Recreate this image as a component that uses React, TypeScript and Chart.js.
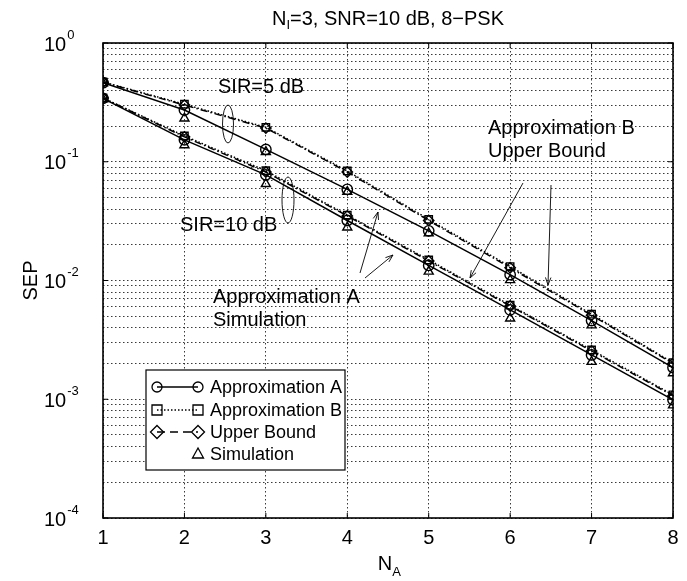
import React, { useEffect, useRef } from 'react';
import { Chart, registerables } from 'chart.js';
Chart.register(...registerables);

const NA = [1, 2, 3, 4, 5, 6, 7, 8];
const sir5ApproxA = [0.463, 0.273, 0.127, 0.0586, 0.0262, 0.0112, 0.0046, 0.00185];
const sir5ApproxB = [0.47, 0.305, 0.195, 0.0836, 0.0327, 0.0131, 0.0052, 0.00203];
const sir5Upper = [0.468, 0.3, 0.192, 0.082, 0.032, 0.0128, 0.0051, 0.002];
const sir5Sim = [0.458, 0.232, 0.121, 0.0559, 0.025, 0.0101, 0.0042, 0.00166];
const sir10ApproxA = [0.342, 0.153, 0.0775, 0.032, 0.0134, 0.00565, 0.00236, 0.00099];
const sir10ApproxB = [0.345, 0.165, 0.084, 0.0356, 0.0149, 0.0062, 0.0026, 0.00109];
const sir10Upper = [0.344, 0.162, 0.082, 0.035, 0.0146, 0.0061, 0.00255, 0.00107];
const sir10Sim = [0.336, 0.138, 0.065, 0.028, 0.0119, 0.0048, 0.00207, 0.00089];
const yExponents = [0, -1, -2, -3, -4];
const xTickLabels = ['1', '2', '3', '4', '5', '6', '7', '8'];
const legendLabels = ['Approximation A', 'Approximation B', 'Upper Bound', 'Simulation'];

const FONT = '"Liberation Sans", Arial, sans-serif';

function yGridTicks() {
  const t: { value: number }[] = [];
  for (let e = -4; e <= 0; e++) {
    for (let m = 1; m <= 9; m++) {
      const v = m * Math.pow(10, e);
      if (v <= 1.0000001) t.push({ value: v });
    }
  }
  return t;
}

function drawMarker(ctx: CanvasRenderingContext2D, style: string, x: number, y: number, r: number) {
  ctx.beginPath();
  if (style === 'circle') ctx.arc(x, y, r, 0, Math.PI * 2);
  else if (style === 'rect') ctx.rect(x - r, y - r, 2 * r, 2 * r);
  else if (style === 'rectRot') {
    ctx.moveTo(x, y - r * 1.3); ctx.lineTo(x + r * 1.3, y); ctx.lineTo(x, y + r * 1.3); ctx.lineTo(x - r * 1.3, y); ctx.closePath();
  } else if (style === 'triangle') {
    ctx.moveTo(x, y - r * 1.2); ctx.lineTo(x + r * 1.1, y + r * 0.8); ctx.lineTo(x - r * 1.1, y + r * 0.8); ctx.closePath();
  }
  ctx.stroke();
}

function arrow(ctx: CanvasRenderingContext2D, x1: number, y1: number, x2: number, y2: number) {
  ctx.beginPath(); ctx.moveTo(x1, y1); ctx.lineTo(x2, y2); ctx.stroke();
  const a = Math.atan2(y2 - y1, x2 - x1);
  const L = 8, w = 0.35;
  ctx.beginPath();
  ctx.moveTo(x2 - L * Math.cos(a - w), y2 - L * Math.sin(a - w));
  ctx.lineTo(x2, y2);
  ctx.lineTo(x2 - L * Math.cos(a + w), y2 - L * Math.sin(a + w));
  ctx.stroke();
}

const overlay = {
  id: 'overlay',
  afterDraw(chart: any) {
    const { ctx, chartArea: ca, scales } = chart;
    const xs = scales.x, ys = scales.y;
    ctx.save();
    ctx.setLineDash([]);
    ctx.strokeStyle = '#000';
    ctx.fillStyle = '#000';
    // tick marks
    ctx.lineWidth = 1;
    for (const v of NA) {
      const px = xs.getPixelForValue(v);
      ctx.beginPath(); ctx.moveTo(px, ca.bottom); ctx.lineTo(px, ca.bottom - 5);
      ctx.moveTo(px, ca.top); ctx.lineTo(px, ca.top + 5); ctx.stroke();
    }
    for (const e of yExponents) {
      const py = ys.getPixelForValue(Math.pow(10, e));
      ctx.beginPath(); ctx.moveTo(ca.left, py); ctx.lineTo(ca.left + 5, py);
      ctx.moveTo(ca.right, py); ctx.lineTo(ca.right - 5, py); ctx.stroke();
    }
    // border
    ctx.lineWidth = 1.6;
    ctx.strokeRect(ca.left, ca.top, ca.right - ca.left, ca.bottom - ca.top);

    // y tick labels
    ctx.textBaseline = 'middle';
    ctx.textAlign = 'left';
    for (const e of yExponents) {
      const py = ys.getPixelForValue(Math.pow(10, e));
      ctx.font = `20px ${FONT}`;
      ctx.fillText('10', 44, py + 2);
      const w = ctx.measureText('10').width;
      ctx.font = `13px ${FONT}`;
      ctx.fillText(String(e), 44 + w + 1, py - 8);
    }
    // x tick labels
    ctx.font = `20px ${FONT}`;
    ctx.textAlign = 'center';
    NA.forEach((v, i) => {
      ctx.fillText(xTickLabels[i], xs.getPixelForValue(v), ca.bottom + 20);
    });
    // x title N_A
    const cx = (ca.left + ca.right) / 2;
    ctx.textAlign = 'left';
    ctx.font = `20px ${FONT}`;
    const nW = ctx.measureText('N').width;
    ctx.fillText('N', cx - nW / 2 - 3, ca.bottom + 46);
    ctx.font = `13px ${FONT}`;
    ctx.fillText('A', cx + nW / 2 - 3, ca.bottom + 54);
    // y title
    ctx.save();
    ctx.translate(31, (ca.top + ca.bottom) / 2);
    ctx.rotate(-Math.PI / 2);
    ctx.textAlign = 'center';
    ctx.font = `20px ${FONT}`;
    ctx.fillText('SEP', 0, 0);
    ctx.restore();
    // title
    const tf = 20, sf = 13;
    ctx.font = `${tf}px ${FONT}`;
    const t1 = 'N', t2 = 'I', t3 = '=3, SNR=10 dB, 8\u2212PSK';
    const w1 = ctx.measureText(t1).width;
    const w3 = ctx.measureText(t3).width;
    ctx.font = `${sf}px ${FONT}`;
    const w2 = ctx.measureText(t2).width;
    const total = w1 + w2 + w3;
    let tx = cx - total / 2;
    ctx.textAlign = 'left';
    ctx.font = `${tf}px ${FONT}`;
    ctx.fillText(t1, tx, 19); tx += w1;
    ctx.font = `${sf}px ${FONT}`;
    ctx.fillText(t2, tx, 25); tx += w2;
    ctx.font = `${tf}px ${FONT}`;
    ctx.fillText(t3, tx, 19);

    // annotations
    ctx.font = `20px ${FONT}`;
    ctx.fillText('SIR=5 dB', 218, 87);
    ctx.fillText('SIR=10 dB', 180, 225);
    ctx.fillText('Approximation A', 213, 297);
    ctx.fillText('Simulation', 213, 320);
    ctx.fillText('Approximation B', 488, 128);
    ctx.fillText('Upper Bound', 488, 151);
    ctx.lineWidth = 0.9;
    ctx.beginPath(); ctx.ellipse(228, 124, 5.5, 19, 0, 0, Math.PI * 2); ctx.stroke();
    ctx.beginPath(); ctx.ellipse(288, 200, 6, 23, 0, 0, Math.PI * 2); ctx.stroke();
    arrow(ctx, 360, 273, 378, 212);
    arrow(ctx, 365, 278, 393, 255);
    arrow(ctx, 523, 183, 470, 278);
    arrow(ctx, 551, 185, 548, 285);

    // legend
    const lx = 146, ly = 370, lw = 199, lh = 100;
    ctx.fillStyle = '#fff';
    ctx.fillRect(lx, ly, lw, lh);
    ctx.lineWidth = 1.2;
    ctx.strokeStyle = '#000';
    ctx.strokeRect(lx, ly, lw, lh);
    ctx.fillStyle = '#000';
    const rows = [387, 410, 432, 454];
    const styles = ['circle', 'rect', 'rectRot', 'triangle'];
    const dashes: number[][] = [[], [1.5, 2], [8, 5], []];
    rows.forEach((ry, i) => {
      ctx.lineWidth = 1.3;
      if (i < 3) {
        ctx.setLineDash(dashes[i]);
        ctx.beginPath(); ctx.moveTo(157, ry); ctx.lineTo(198, ry); ctx.stroke();
        ctx.setLineDash([]);
        drawMarker(ctx, styles[i], 157, ry, 5);
      }
      drawMarker(ctx, styles[i], 198, ry, 5);
      ctx.font = `18px ${FONT}`;
      ctx.textAlign = 'left';
      ctx.textBaseline = 'middle';
      ctx.fillText(legendLabels[i], 210, ry + 1);
    });
    ctx.restore();
  },
};

function series(label: string, data: number[], style: string, dash: number[] | null) {
  return {
    label,
    data: NA.map((x, i) => ({ x, y: data[i] })),
    borderColor: '#000',
    borderWidth: 1.5,
    borderDash: dash || [],
    showLine: dash !== null,
    pointStyle: style,
    pointRadius: 5.2,
    pointBorderWidth: 1.4,
    pointBorderColor: '#000',
    pointBackgroundColor: 'rgba(0,0,0,0)',
    fill: false,
    tension: 0,
  };
}

export default function App() {
  const ref = useRef<HTMLCanvasElement>(null);
  useEffect(() => {
    if (!ref.current) return;
    const chart = new Chart(ref.current, {
      type: 'scatter',
      data: {
        datasets: [
          series('SIR=5 Approximation A', sir5ApproxA, 'circle', []),
          series('SIR=5 Approximation B', sir5ApproxB, 'rect', [1.5, 2]),
          series('SIR=5 Upper Bound', sir5Upper, 'rectRot', [7, 3, 1.5, 3]),
          series('SIR=5 Simulation', sir5Sim, 'triangle', null),
          series('SIR=10 Approximation A', sir10ApproxA, 'circle', []),
          series('SIR=10 Approximation B', sir10ApproxB, 'rect', [1.5, 2]),
          series('SIR=10 Upper Bound', sir10Upper, 'rectRot', [7, 3, 1.5, 3]),
          series('SIR=10 Simulation', sir10Sim, 'triangle', null),
        ] as any,
      },
      options: {
        animation: false,
        responsive: false,
        maintainAspectRatio: false,
        layout: { padding: { left: 103, right: 14, top: 43, bottom: 63 } },
        plugins: { legend: { display: false }, tooltip: { enabled: false }, title: { display: false } },
        scales: {
          x: {
            type: 'linear', min: 1, max: 8,
            ticks: { display: false, stepSize: 1 },
            grid: { color: '#222', lineWidth: 0.9, drawTicks: false },
            border: { display: false, dash: [1.5, 2.5] },
            afterFit: (s: any) => { s.height = 0; },
          },
          y: {
            type: 'logarithmic', min: 1e-4, max: 1,
            ticks: { display: false, autoSkip: false },
            afterBuildTicks: (s: any) => { s.ticks = yGridTicks(); },
            grid: { color: '#222', lineWidth: 0.9, drawTicks: false },
            border: { display: false, dash: [1.5, 2.5] },
            afterFit: (s: any) => { s.width = 0; },
          },
        },
      } as any,
      plugins: [overlay],
    });
    return () => chart.destroy();
  }, []);
  return (
    <div style={{ position: 'fixed', left: 0, top: 0, width: 687, height: 581, background: '#fff' }}>
      <canvas ref={ref} width={687} height={581} style={{ width: 687, height: 581, display: 'block' }} />
    </div>
  );
}
